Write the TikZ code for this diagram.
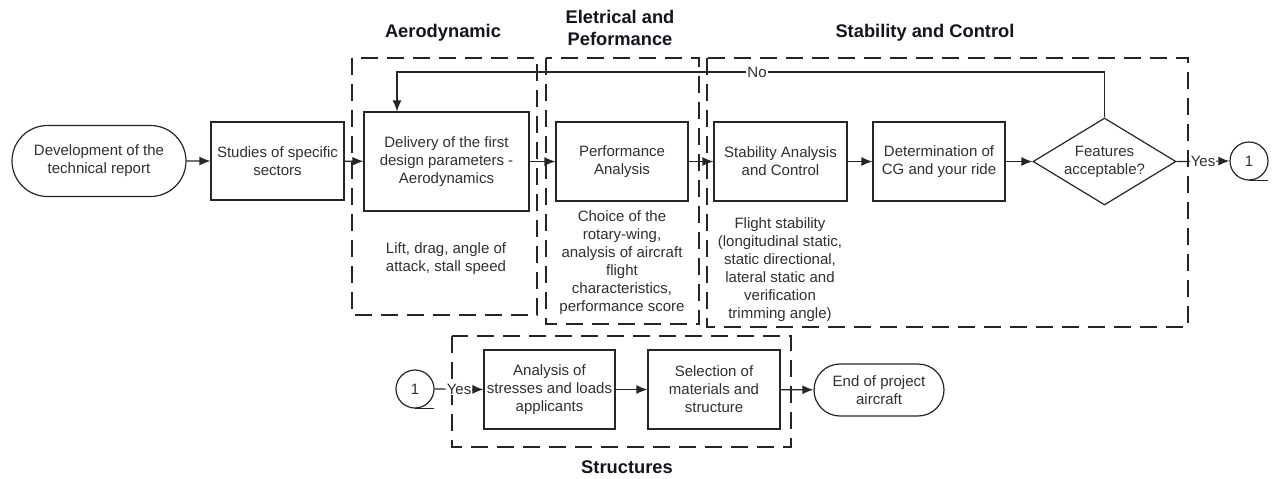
\documentclass[tikz,border=0pt]{standalone}
\usepackage{fontspec}
\setmainfont{Liberation Sans}
\usetikzlibrary{arrows.meta,shapes.geometric,shapes.misc}
\definecolor{ink}{HTML}{262626}
\definecolor{txt}{HTML}{303030}
\definecolor{ttl}{HTML}{14141E}
\tikzset{
  every node/.style={font=\fontsize{15}{18}\selectfont, text=txt, align=center},
  proc/.style={draw=ink, line width=1.2pt, rectangle, inner sep=2pt},
  term/.style={draw=ink, line width=1.2pt, rounded rectangle, inner sep=2pt},
  dec/.style={draw=ink, line width=1.2pt, diamond, inner sep=0pt},
  conn/.style={draw=ink, line width=1.2pt, circle, minimum size=38pt, inner sep=0pt},
  grp/.style={draw=ink, line width=1.1pt, dash pattern=on 17pt off 9pt},
  arr/.style={draw=ink, line width=1.2pt, -{Latex[length=11pt,width=9pt]}},
  ln/.style={draw=ink, line width=1.2pt},
  lbl/.style={fill=white, inner sep=1pt},
  ttlstyle/.style={font=\fontsize{18.3}{22}\selectfont\bfseries, text=ttl},
}
\begin{document}
\begin{tikzpicture}[x=1pt,y=-1pt]
\useasboundingbox[fill=white] (0,0) rectangle (1274,479);
% group boxes
\draw[grp] (352,58) rectangle (537,315);
\draw[grp] (546,58) rectangle (699,324);
\draw[grp] (707,58) rectangle (1188,327);
\draw[grp] (452,336) rectangle (791,447);
% titles
\node[ttlstyle] (t1) at (443,33) {Aerodynamic};
\node[ttlstyle] (t2) at (620,28) {Eletrical and\\Peformance};
\node[ttlstyle] (t3) at (925,33) {Stability and Control};
\node[ttlstyle] (t4) at (627,467) {Structures};
% main row
\node[term, minimum width=178pt, minimum height=71pt] (start) at (99,161) {Development of the\\technical report};
\node[proc, minimum width=133pt, minimum height=78pt] (stud) at (277.5,161) {Studies of specific\\sectors};
\node[proc, minimum width=165pt, minimum height=99pt] (del) at (446.5,161.5) {Delivery of the first\\design parameters -\\Aerodynamics};
\node[proc, minimum width=132pt, minimum height=79pt] (perf) at (622,161.5) {Performance\\Analysis};
\node[proc, minimum width=133pt, minimum height=79pt] (stab) at (780.5,161.5) {Stability Analysis\\and Control};
\node[proc, minimum width=132pt, minimum height=79pt] (cg) at (939,161.5) {Determination of\\CG and your ride};
\node[dec, minimum width=143pt, minimum height=87pt] (feat) at (1104.5,161.5) {};
\node (featt) at (feat.center) {Features\\acceptable?};
\node[conn] (c1) at (1249,161) {1};
% notes
\node (n1) at (446,258.5) {Lift, drag, angle of\\attack, stall speed};
\node (n2) at (622,262.5) {Choice of the\\rotary-wing,\\analysis of aircraft\\flight\\characteristics,\\performance score};
\node (n3) at (780,270) {Flight stability\\(longitudinal static,\\static directional,\\lateral static and\\verification\\trimming angle)};
% bottom row
\node[conn] (c2) at (415,389) {1};
\node[proc, minimum width=131pt, minimum height=79pt] (ana) at (549.5,389.5) {Analysis of\\stresses and loads\\applicants};
\node[proc, minimum width=132pt, minimum height=79pt] (sel) at (714,389.5) {Selection of\\materials and\\structure};
\node[term, minimum width=134pt, minimum height=52pt] (end) at (879,390) {End of project\\aircraft};
% connectors
\draw[arr] (start) -- (stud);
\draw[arr] (stud) -- (del);
\draw[arr] (del) -- (perf);
\draw[arr] (perf) -- (stab);
\draw[arr] (stab) -- (cg);
\draw[arr] (cg) -- (feat);
\draw[arr] (feat.east) -- node[lbl] (y1) {Yes} (c1.west);
\coordinate (fbR) at (1104.5,72);
\coordinate (fbL) at (397,72);
\draw[arr] (feat.north) -- (fbR) -- (fbL) -- (fbL |- del.north);
\node[lbl] (no) at (757,72) {No};
\draw[ln] (c1.south) -- ++(19,0);
\draw[ln] (c2.south) -- ++(19,0);
\draw[arr] (c2.east) -- node[lbl] (y2) {Yes} (ana.west);
\draw[arr] (ana) -- (sel);
\draw[arr] (sel) -- (end);
\end{tikzpicture}
\end{document}
